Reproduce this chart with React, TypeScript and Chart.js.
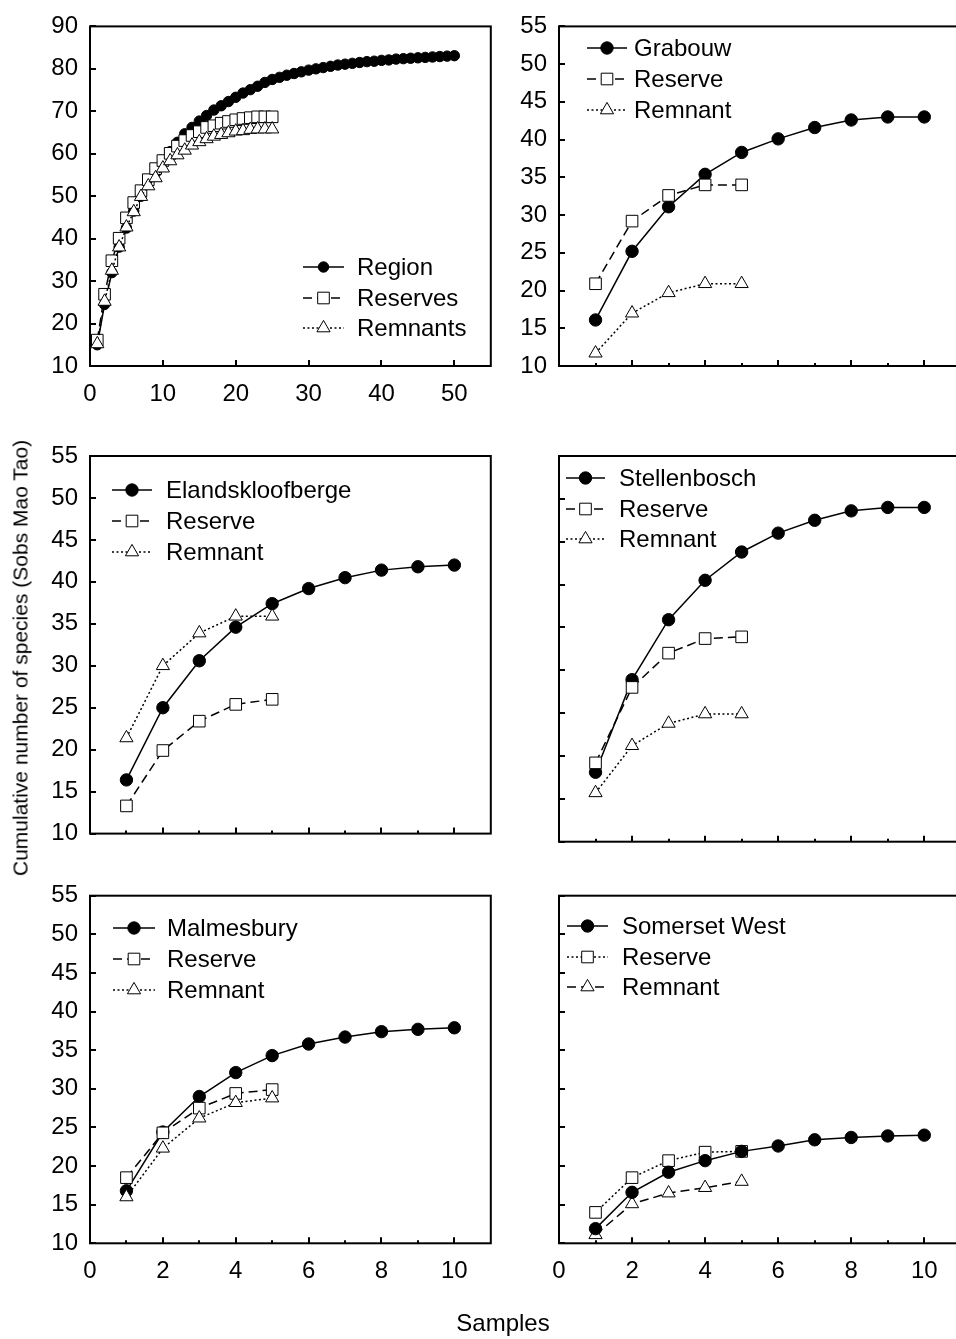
import { useEffect, useRef } from 'react';
import { Chart, registerables } from 'chart.js';

Chart.register(...registerables);

const FONT = '"Liberation Sans", Arial, Helvetica, sans-serif';

// ---------- data ----------
const regionSamples = [1, 2, 3, 4, 5, 6, 7, 8, 9, 10, 11, 12, 13, 14, 15, 16, 17, 18, 19, 20, 21, 22, 23, 24, 25, 26, 27, 28, 29, 30, 31, 32, 33, 34, 35, 36, 37, 38, 39, 40, 41, 42, 43, 44, 45, 46, 47, 48, 49, 50];
const regionValues = [15.0, 24.5, 32.0, 38.0, 42.5, 46.5, 50.0, 53.0, 55.5, 58.0, 60.5, 62.7, 64.7, 66.2, 67.7, 69.0, 70.3, 71.3, 72.3, 73.3, 74.3, 75.1, 75.9, 76.8, 77.5, 78.0, 78.5, 78.9, 79.3, 79.7, 80.0, 80.3, 80.6, 80.9, 81.1, 81.3, 81.5, 81.7, 81.8, 82.0, 82.1, 82.3, 82.4, 82.5, 82.6, 82.7, 82.8, 82.9, 83.0, 83.1];
const regionSubSamples = [1, 2, 3, 4, 5, 6, 7, 8, 9, 10, 11, 12, 13, 14, 15, 16, 17, 18, 19, 20, 21, 22, 23, 24, 25];
const reservesValues = [16.1, 26.9, 34.8, 40.1, 44.9, 48.5, 51.3, 53.9, 56.5, 58.4, 60.1, 61.8, 63.1, 64.3, 65.2, 66.2, 66.6, 67.2, 67.6, 68.0, 68.3, 68.5, 68.7, 68.7, 68.7];
const remnantsValues = [15.2, 25.2, 32.5, 38.0, 42.7, 46.3, 49.9, 52.4, 54.3, 56.6, 58.3, 59.7, 60.8, 62.0, 62.8, 63.5, 64.1, 64.5, 64.9, 65.3, 65.4, 65.7, 65.8, 65.8, 65.8];

const siteSamples = [1, 2, 3, 4, 5, 6, 7, 8, 9, 10];
const siteSubSamples = [1, 2, 3, 4, 5];

const grabouwValues = [16.1, 25.2, 31.1, 35.4, 38.3, 40.1, 41.6, 42.6, 43.0, 43.0];
const grabouwReserve = [20.9, 29.2, 32.6, 34.0, 34.0];
const grabouwRemnant = [11.7, 17.0, 19.7, 20.9, 20.9];

const elandsValues = [16.4, 25.0, 30.6, 34.6, 37.4, 39.2, 40.5, 41.4, 41.8, 42.0];
const elandsReserve = [13.3, 19.9, 23.4, 25.4, 26.0];
const elandsRemnant = [21.4, 30.0, 33.9, 35.9, 35.9];

const stellenValues = [18.1, 28.9, 35.9, 40.5, 43.8, 46.0, 47.5, 48.6, 49.0, 49.0];
const stellenReserve = [19.2, 28.0, 32.0, 33.7, 33.9];
const stellenRemnant = [15.7, 21.2, 23.8, 24.9, 24.9];

const malmesValues = [16.8, 24.4, 29.0, 32.1, 34.3, 35.8, 36.7, 37.4, 37.7, 37.9];
const malmesReserve = [18.5, 24.3, 27.5, 29.4, 29.9];
const malmesRemnant = [16.0, 22.3, 26.2, 28.2, 28.8];

const somersetValues = [11.9, 16.6, 19.2, 20.7, 21.9, 22.6, 23.4, 23.7, 23.9, 24.0];
const somersetReserve = [14.0, 18.5, 20.7, 21.8, 21.9];
const somersetRemnant = [11.1, 15.1, 16.5, 17.2, 18.0];

const regionYTicks = [10, 20, 30, 40, 50, 60, 70, 80, 90];
const regionXTicks = [0, 10, 20, 30, 40, 50];
const siteYTicks = [10, 15, 20, 25, 30, 35, 40, 45, 50, 55];
const siteXTicks = [0, 2, 4, 6, 8, 10];
const siteXMinorTicks = [1, 3, 5, 7, 9];

const yAxisTitle = 'Cumulative number of species (Sobs Mao Tao)';
const xAxisTitle = 'Samples';

// ---------- styles ----------
const SOLID: number[] = [];
const DASHED = [9, 5];
const DOTTED = [2, 2.5];
const LINE_W = 1.5;
const TICK_FONT = 24;
const LEGEND_FONT = 24;

type Marker = 'circle' | 'rect' | 'triangle';
interface Series {
  label: string;
  xs: number[];
  ys: number[];
  marker: Marker;
  dash: number[];
  filled: boolean;
  radius: number;
  order: number;
}
interface Panel {
  left: number;
  top: number;
  width: number;
  height: number;
  plot: { l: number; t: number; r: number; b: number };
  xMax: number;
  yMin: number;
  yMax: number;
  xTicks: number[];
  xMinor: number[];
  yTicks: number[];
  showX: boolean;
  showY: boolean;
  series: Series[];
  legend: { x1: number; x2: number; xt: number; rows: number[] };
}

const mk = (label: string, xs: number[], ys: number[], marker: Marker, dash: number[], order: number, radius?: number): Series => ({
  label,
  xs,
  ys,
  marker,
  dash,
  filled: marker === 'circle',
  radius: radius ?? (marker === 'circle' ? 6.2 : marker === 'rect' ? 8.2 : 7.6),
  order,
});

const panels: Panel[] = [
  {
    left: 0, top: 0, width: 500, height: 420,
    plot: { l: 90, t: 18, r: 492, b: 366 },
    xMax: 55, yMin: 10, yMax: 90,
    xTicks: regionXTicks, xMinor: [], yTicks: regionYTicks, showX: true, showY: true,
    series: [
      mk('Region', regionSamples, regionValues, 'circle', SOLID, 3, 5.2),
      mk('Reserves', regionSubSamples, reservesValues, 'rect', DASHED, 2),
      mk('Remnants', regionSubSamples, remnantsValues, 'triangle', DOTTED, 1),
    ],
    legend: { x1: 303, x2: 344, xt: 357, rows: [267, 298, 328] },
  },
  {
    left: 500, top: 0, width: 470, height: 420,
    plot: { l: 559, t: 18, r: 962.4, b: 366 },
    xMax: 11, yMin: 10, yMax: 55,
    xTicks: siteXTicks, xMinor: siteXMinorTicks, yTicks: siteYTicks, showX: false, showY: true,
    series: [
      mk('Grabouw', siteSamples, grabouwValues, 'circle', SOLID, 3),
      mk('Reserve', siteSubSamples, grabouwReserve, 'rect', DASHED, 2),
      mk('Remnant', siteSubSamples, grabouwRemnant, 'triangle', DOTTED, 1),
    ],
    legend: { x1: 587, x2: 627, xt: 634, rows: [48, 79, 110] },
  },
  {
    left: 0, top: 420, width: 500, height: 440,
    plot: { l: 90, t: 456, r: 492, b: 841.7 },
    xMax: 11, yMin: 10, yMax: 55,
    xTicks: siteXTicks, xMinor: siteXMinorTicks, yTicks: siteYTicks, showX: false, showY: true,
    series: [
      mk('Elandskloofberge', siteSamples, elandsValues, 'circle', SOLID, 3),
      mk('Reserve', siteSubSamples, elandsReserve, 'rect', DASHED, 2),
      mk('Remnant', siteSubSamples, elandsRemnant, 'triangle', DOTTED, 1),
    ],
    legend: { x1: 112, x2: 152, xt: 166, rows: [490, 521, 552] },
  },
  {
    left: 500, top: 420, width: 470, height: 440,
    plot: { l: 559, t: 456, r: 962.4, b: 841.7 },
    xMax: 11, yMin: 10, yMax: 55,
    xTicks: siteXTicks, xMinor: siteXMinorTicks, yTicks: siteYTicks, showX: false, showY: false,
    series: [
      mk('Stellenbosch', siteSamples, stellenValues, 'circle', SOLID, 3),
      mk('Reserve', siteSubSamples, stellenReserve, 'rect', DASHED, 2),
      mk('Remnant', siteSubSamples, stellenRemnant, 'triangle', DOTTED, 1),
    ],
    legend: { x1: 566, x2: 605, xt: 619, rows: [478, 509, 539] },
  },
  {
    left: 0, top: 860, width: 500, height: 479,
    plot: { l: 90, t: 895.7, r: 492, b: 1243.3 },
    xMax: 11, yMin: 10, yMax: 55,
    xTicks: siteXTicks, xMinor: siteXMinorTicks, yTicks: siteYTicks, showX: true, showY: true,
    series: [
      mk('Malmesbury', siteSamples, malmesValues, 'circle', SOLID, 3),
      mk('Reserve', siteSubSamples, malmesReserve, 'rect', DASHED, 2),
      mk('Remnant', siteSubSamples, malmesRemnant, 'triangle', DOTTED, 1),
    ],
    legend: { x1: 113, x2: 155, xt: 167, rows: [928, 959, 990] },
  },
  {
    left: 500, top: 860, width: 470, height: 479,
    plot: { l: 559, t: 895.7, r: 962.4, b: 1243.3 },
    xMax: 11, yMin: 10, yMax: 55,
    xTicks: siteXTicks, xMinor: siteXMinorTicks, yTicks: siteYTicks, showX: true, showY: false,
    series: [
      mk('Somerset West', siteSamples, somersetValues, 'circle', SOLID, 1),
      mk('Reserve', siteSubSamples, somersetReserve, 'rect', DOTTED, 3),
      mk('Remnant', siteSubSamples, somersetRemnant, 'triangle', DASHED, 2),
    ],
    legend: { x1: 567, x2: 608, xt: 622, rows: [926, 957, 987] },
  },
];

function drawMarker(ctx: CanvasRenderingContext2D, s: Series, x: number, y: number) {
  ctx.save();
  ctx.setLineDash([]);
  ctx.lineWidth = 1;
  ctx.strokeStyle = '#000';
  ctx.fillStyle = s.filled ? '#000' : '#fff';
  ctx.beginPath();
  const r = s.radius;
  if (s.marker === 'circle') {
    ctx.arc(x, y, r, 0, Math.PI * 2);
  } else if (s.marker === 'rect') {
    const h = r * Math.SQRT1_2;
    ctx.rect(x - h, y - h, 2 * h, 2 * h);
  } else {
    let a = 0;
    ctx.moveTo(x + Math.sin(a) * r, y - Math.cos(a) * r);
    a += (2 * Math.PI) / 3;
    ctx.lineTo(x + Math.sin(a) * r, y - Math.cos(a) * r);
    a += (2 * Math.PI) / 3;
    ctx.lineTo(x + Math.sin(a) * r, y - Math.cos(a) * r);
    ctx.closePath();
  }
  ctx.fill();
  ctx.stroke();
  ctx.restore();
}

function PanelChart({ p }: { p: Panel }) {
  const ref = useRef<HTMLCanvasElement | null>(null);
  useEffect(() => {
    if (!ref.current) return;
    const padTop = p.plot.t - p.top;
    const padRight = p.left + p.width - p.plot.r;
    const yWidth = p.plot.l - p.left;
    const xHeight = p.top + p.height - p.plot.b;

    const framePlugin = {
      id: 'frameTicksLegend',
      beforeDatasetsDraw(chart: any) {
        const { ctx, chartArea: a, scales } = chart;
        const xs = scales.x;
        const ys = scales.y;
        ctx.save();
        ctx.strokeStyle = '#000';
        ctx.lineWidth = 2;
        ctx.strokeRect(a.left, a.top, a.right - a.left, a.bottom - a.top);
        ctx.beginPath();
        p.xTicks.forEach((v) => {
          const px = Math.round(xs.getPixelForValue(v));
          ctx.moveTo(px, a.bottom);
          ctx.lineTo(px, a.bottom - 6);
        });
        p.xMinor.forEach((v) => {
          const px = Math.round(xs.getPixelForValue(v));
          ctx.moveTo(px, a.bottom);
          ctx.lineTo(px, a.bottom - 3);
        });
        p.yTicks.forEach((v) => {
          const py = Math.round(ys.getPixelForValue(v));
          ctx.moveTo(a.left, py);
          ctx.lineTo(a.left + 6, py);
        });
        ctx.stroke();
        ctx.restore();
      },
      afterDraw(chart: any) {
        const { ctx } = chart;
        const lg = p.legend;
        p.series.forEach((s, i) => {
          const y = lg.rows[i] - p.top;
          const x1 = lg.x1 - p.left;
          const x2 = lg.x2 - p.left;
          ctx.save();
          ctx.strokeStyle = '#000';
          ctx.lineWidth = LINE_W;
          ctx.setLineDash(s.dash);
          ctx.beginPath();
          ctx.moveTo(x1, y);
          ctx.lineTo(x2, y);
          ctx.stroke();
          ctx.restore();
          drawMarker(ctx, s, (x1 + x2) / 2, y);
          ctx.save();
          ctx.fillStyle = '#000';
          ctx.font = `${LEGEND_FONT}px ${FONT}`;
          ctx.textAlign = 'left';
          ctx.textBaseline = 'middle';
          ctx.fillText(s.label, lg.xt - p.left, y + 1);
          ctx.restore();
        });
      },
    };

    const chart = new Chart(ref.current, {
      type: 'line',
      data: {
        datasets: p.series.map((s) => ({
          label: s.label,
          data: s.xs.map((x, j) => ({ x, y: s.ys[j] })),
          borderColor: '#000',
          borderWidth: LINE_W,
          borderDash: s.dash,
          pointStyle: s.marker,
          pointRadius: s.radius,
          pointBackgroundColor: s.filled ? '#000' : '#fff',
          pointBorderColor: '#000',
          pointBorderWidth: 1,
          tension: 0,
          fill: false,
          clip: false as any,
          order: s.order,
        })),
      },
      options: {
        animation: false,
        responsive: false,
        maintainAspectRatio: false,
        layout: { padding: { top: padTop, right: padRight, left: 0, bottom: 0 } },
        plugins: { legend: { display: false }, tooltip: { enabled: false }, title: { display: false } },
        scales: {
          x: {
            type: 'linear',
            min: 0,
            max: p.xMax,
            afterBuildTicks: (s: any) => {
              s.ticks = p.xTicks.map((v) => ({ value: v }));
            },
            afterFit: (s: any) => {
              s.height = xHeight;
            },
            grid: { display: false, drawTicks: false },
            border: { display: false },
            ticks: {
              display: p.showX,
              color: '#000',
              font: { family: FONT, size: TICK_FONT },
              padding: 14,
              maxRotation: 0,
              autoSkip: false,
            },
          },
          y: {
            type: 'linear',
            min: p.yMin,
            max: p.yMax,
            afterBuildTicks: (s: any) => {
              s.ticks = p.yTicks.map((v) => ({ value: v }));
            },
            afterFit: (s: any) => {
              s.width = yWidth;
            },
            grid: { display: false, drawTicks: false },
            border: { display: false },
            ticks: {
              display: p.showY,
              color: '#000',
              font: { family: FONT, size: TICK_FONT },
              padding: 12,
              autoSkip: false,
            },
          },
        },
      } as any,
      plugins: [framePlugin],
    });
    return () => chart.destroy();
  }, [p]);

  return (
    <canvas
      ref={ref}
      width={p.width}
      height={p.height}
      style={{ position: 'absolute', left: p.left, top: p.top, width: p.width, height: p.height }}
    />
  );
}

export default function App() {
  return (
    <div
      style={{
        position: 'absolute',
        left: 0,
        top: 0,
        width: 956,
        height: 1339,
        overflow: 'hidden',
        background: '#fff',
        fontFamily: FONT,
      }}
    >
      {panels.map((p, i) => (
        <PanelChart key={i} p={p} />
      ))}
      <div
        style={{
          position: 'absolute',
          left: 20,
          top: 658,
          transform: 'translate(-50%, -50%) rotate(-90deg)',
          whiteSpace: 'nowrap',
          fontSize: 21,
          color: '#000',
          lineHeight: 1,
        }}
      >
        {yAxisTitle}
      </div>
      <div
        style={{
          position: 'absolute',
          left: 503,
          top: 1323,
          transform: 'translate(-50%, -50%)',
          whiteSpace: 'nowrap',
          fontSize: 24,
          color: '#000',
          lineHeight: 1,
        }}
      >
        {xAxisTitle}
      </div>
    </div>
  );
}
